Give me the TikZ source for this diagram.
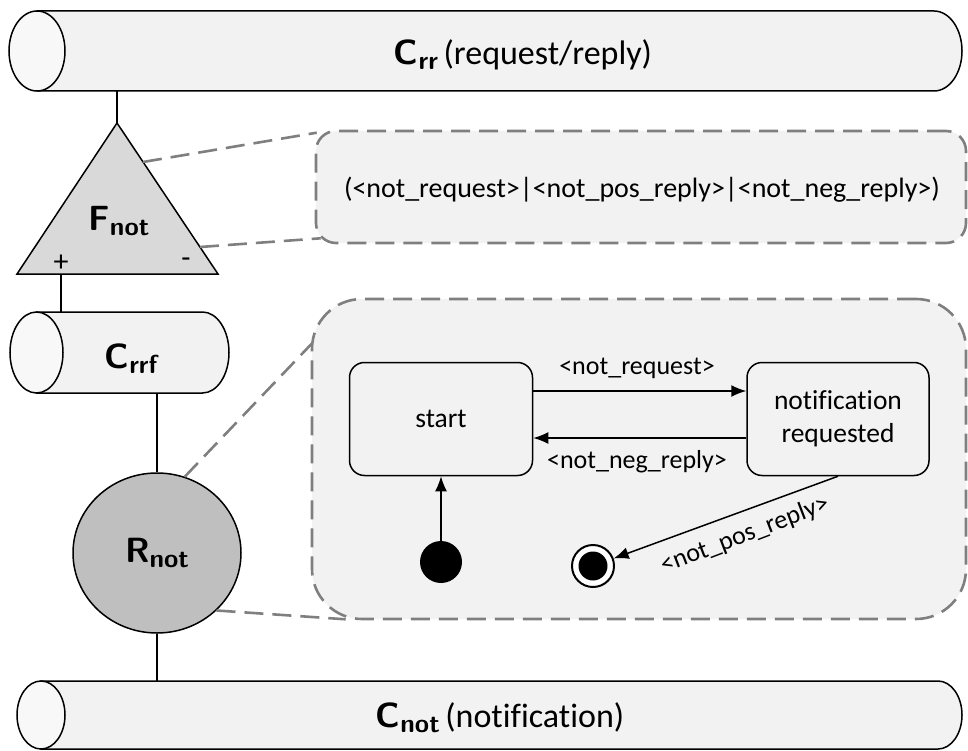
\documentclass[tikz,border=0pt]{standalone}
\usepackage{fontspec}
\setmainfont{Carlito}[Ligatures=NoCommon]
\usetikzlibrary{arrows.meta,shapes.geometric}
\definecolor{cylfill}{HTML}{F2F2F2}
\definecolor{cylendfill}{HTML}{F8F8F8}
\definecolor{trifill}{HTML}{D9D9D9}
\definecolor{rfill}{HTML}{BFBFBF}
\definecolor{zoomgray}{HTML}{7F7F7F}
\newcommand\biglbl[2]{{\sffamily\bfseries\fontsize{35}{40}\selectfont #1\raisebox{-5pt}{\fontsize{26}{30}\selectfont #2}}}
\begin{document}
\begin{tikzpicture}[x=1pt,y=-1pt,
  cylbody/.style={fill=cylfill, draw=black, line width=1.5pt},
  cylend/.style={fill=cylendfill, draw=black, line width=1.5pt},
  wire/.style={draw=black, line width=1.5pt},
  zoomline/.style={draw=zoomgray, line width=2.6pt, dash pattern=on 19pt off 9pt},
  dashbox/.style={rectangle, draw=zoomgray, fill=cylfill, line width=2.6pt, dash pattern=on 19pt off 9pt, inner sep=0pt},
  statebox/.style={rectangle, draw=black, fill=cylfill, line width=1.5pt, rounded corners=15pt, inner sep=0pt, align=center, font=\fontsize{27.5}{33}\selectfont},
  lbl/.style={inner sep=0pt, font=\fontsize{26}{30}\selectfont},
  cyltext/.style={inner sep=0pt, font=\fontsize{34}{40}\selectfont},
  arr/.style={draw=black, line width=1.5pt, -{Latex[length=15pt,width=12pt]}}]
\useasboundingbox (0,0) rectangle (968,751);

% ---- top cylinder C_rr
\filldraw[cylbody] (37,11) -- (934,11) arc[start angle=90,end angle=-90,x radius=28pt,y radius=40pt] -- (37,91) -- cycle;
\filldraw[cylend] (37,51) ellipse[x radius=28pt,y radius=40pt];
\node[cyltext] (crr) at (523,55) {\biglbl{C}{rr}\,(request/reply)};
\coordinate (crrb) at (117,91);

% ---- filter triangle F_not
\filldraw[fill=trifill, draw=black, line width=1.5pt] (117,123) -- (218,274) -- (17,274) -- cycle;
\coordinate (fapex) at (117,123);
\coordinate (fplus) at (61,274);
\coordinate (fz1) at (143,162);
\coordinate (fz2) at (200,247);
\node[inner sep=0pt] (fnot) at (119,221) {\biglbl{F}{not}};
\node[lbl, font=\fontsize{30}{32}\selectfont] (plus) at (61,263) {+};
\node[lbl, font=\fontsize{30}{32}\selectfont] (minus) at (186,263) {-};

% ---- C_rrf cylinder
\filldraw[cylbody] (36.5,312) -- (202.5,312) arc[start angle=90,end angle=-90,x radius=26.5pt,y radius=40.5pt] -- (36.5,393) -- cycle;
\filldraw[cylend] (36.5,352.5) ellipse[x radius=26.5pt,y radius=40.5pt];
\node[inner sep=0pt] (crrf) at (131,359) {\biglbl{C}{rrf}};
\coordinate (crrft) at (61,312);
\coordinate (crrfb) at (157,393);

% ---- R_not
\node[ellipse, draw=black, fill=rfill, line width=1.5pt, minimum width=168pt, minimum height=160pt, inner sep=0pt] (rnot) at (157,553) {\biglbl{R}{not}};

% ---- bottom cylinder C_not
\filldraw[cylbody] (41,681) -- (938,681) arc[start angle=90,end angle=-90,x radius=24pt,y radius=34pt] -- (41,749) -- cycle;
\filldraw[cylend] (41,715) ellipse[x radius=24pt,y radius=34pt];
\node[cyltext] (cnot) at (500,718) {\biglbl{C}{not}\,(notification)};
\coordinate (cnott) at (157,681);

% ---- wires
\draw[wire] (crrb) -- (fapex);
\draw[wire] (fplus) -- (crrft);
\draw[wire] (crrfb) -- (rnot.north);
\draw[wire] (rnot.south) -- (cnott);

% ---- zoom boxes
\node[dashbox, minimum width=650pt, minimum height=112pt, rounded corners=20pt] (expr) at (641,187) {};
\node[lbl, font=\fontsize{28}{32}\selectfont] (exprtext) at (642,190) {(<not\_request>|<not\_pos\_reply>|<not\_neg\_reply>)};
\node[dashbox, minimum width=654pt, minimum height=320pt, rounded corners=50pt] (sm) at (639,459) {};

\draw[zoomline] (fz1) -- ([xshift=2pt,yshift=-3pt]expr.north west);
\draw[zoomline] (fz2) -- ([xshift=6pt,yshift=6pt]expr.south west);
\draw[zoomline] (rnot.70) -- ([xshift=1pt,yshift=-46pt]sm.north west);
\draw[zoomline] (rnot.-44) -- ([xshift=35pt,yshift=1pt]sm.south west);

% ---- state machine
\node[statebox, minimum width=183pt, minimum height=113pt] (start) at (441,419) {start};
\node[statebox, minimum width=182pt, minimum height=113pt] (notif) at (838,419) {notification\\requested};
\node[circle, fill=black, minimum size=42pt, inner sep=0pt] (init) at (441,562) {};
\node[circle, draw=black, fill=white, line width=2pt, minimum size=42pt, inner sep=0pt] (final) at (593,566) {};
\fill[black] (final.center) circle[radius=14.5pt];

\draw[arr] ([yshift=28pt]start.east) -- ([yshift=28pt]notif.west);
\draw[arr] ([yshift=-19pt]notif.west) -- ([yshift=-19pt]start.east);
\draw[arr] (init) -- (start);
\draw[arr] (notif.south) -- (final);

\node[lbl] (lreq) at (637,368) {<not\_request>};
\node[lbl] (lneg) at (637,462) {<not\_neg\_reply>};
\node[lbl, rotate=21] (lpos) at (745,535) {<not\_pos\_reply>};
\end{tikzpicture}
\end{document}
